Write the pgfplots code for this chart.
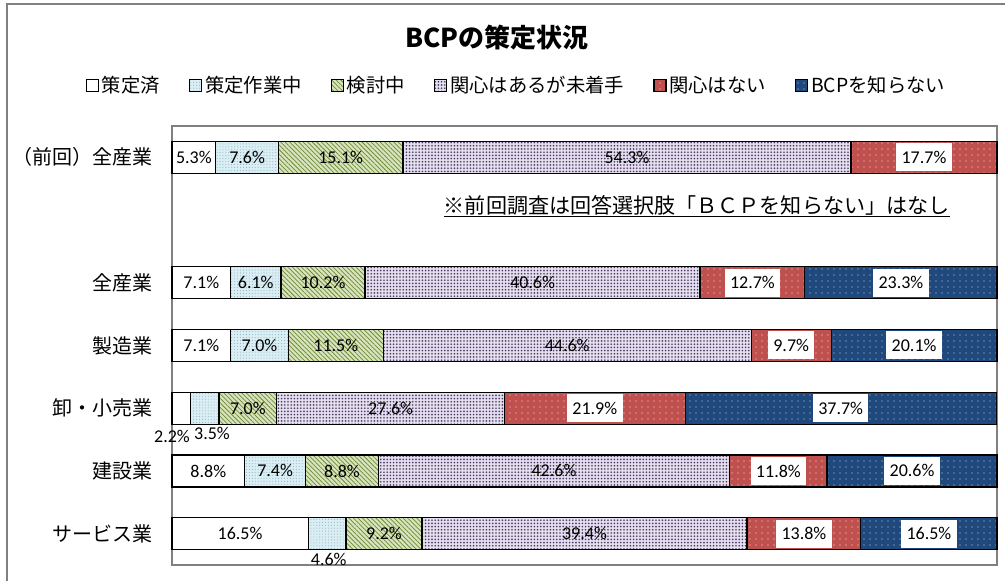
\documentclass[border=0pt]{standalone}
\usepackage{pgfplots}
\pgfplotsset{compat=1.18}
\usetikzlibrary{patterns,patterns.meta}
\usepackage{fontspec}
\setmainfont{Carlito}
\newfontfamily\jp{Noto Sans CJK JP}
\definecolor{cB}{HTML}{DAEEF3}
\definecolor{cBp}{HTML}{8DB4C8}
\definecolor{cC}{HTML}{D7E4BD}
\definecolor{cCp}{HTML}{6E8A36}
\definecolor{cD}{HTML}{E4DFEC}
\definecolor{cDp}{HTML}{4E3A6C}
\definecolor{cE}{HTML}{C0504D}
\definecolor{cF}{HTML}{1F497D}
\definecolor{frame}{HTML}{808080}
\begin{document}
\begin{tikzpicture}
\useasboundingbox (0,0) rectangle (753.75pt,435.75pt);
\draw[frame, line width=1.2pt] (5.25pt,0) -- (5.25pt,432.75pt) -- (760pt,432.75pt);
\node[font=\jp\bfseries\fontsize{19.5}{22}\selectfont] at (372.75pt,407.25pt) {BCPの策定状況};
\begin{axis}[
  at={(129pt,12pt)}, anchor=south west,
  scale only axis, width=618.75pt, height=329.25pt,
  xbar stacked, bar width=0.51,
  xmin=0, xmax=100, ymin=-0.5, ymax=6.5,
  xtick=\empty,
  ytick={0,1,2,3,4,6},
  yticklabels={サービス業,建設業,卸・小売業,製造業,全産業,（前回）全産業},
  yticklabel style={font=\jp\fontsize{15}{17}\selectfont, xshift=-11pt},
  major tick length=0pt,
  axis line style={frame, line width=0.8pt},
  legend columns=6,
  legend style={at={(0.418,1.093)}, anchor=center, draw=none, fill=none,
    font=\jp\fontsize{14.5}{16}\selectfont,
    /tikz/every even column/.append style={column sep=20pt}},
  legend image code/.code={\draw[#1] (0pt,-4.5pt) rectangle (9pt,4.5pt);},
  clip=false,
]
\addplot[draw=black, line width=0.9pt, fill=white] coordinates {(16.5,0) (8.8,1) (2.2,2) (7.1,3) (7.1,4) (5.3,6)};
\addlegendentry{策定済}
\addplot[draw=black, line width=0.9pt, fill=cB, postaction={pattern={Dots[distance=2.2pt, radius=0.4pt]}, pattern color=cBp}] coordinates {(4.6,0) (7.4,1) (3.5,2) (7.0,3) (6.1,4) (7.6,6)};
\addlegendentry{策定作業中}
\addplot[draw=black, line width=0.9pt, fill=cC, postaction={pattern={Lines[angle=-45, distance=2.4pt, line width=0.55pt]}, pattern color=cCp}] coordinates {(9.2,0) (8.8,1) (7.0,2) (11.5,3) (10.2,4) (15.1,6)};
\addlegendentry{検討中}
\addplot[draw=black, line width=0.9pt, fill=cD, postaction={pattern={Dots[distance=2.4pt, radius=0.7pt]}, pattern color=cDp}] coordinates {(39.4,0) (42.6,1) (27.6,2) (44.6,3) (40.6,4) (54.3,6)};
\addlegendentry{関心はあるが未着手}
\addplot[draw=black, line width=0.9pt, fill=cE, postaction={pattern={Dots[distance=4.5pt, radius=0.45pt]}, pattern color=white!80!cE}] coordinates {(13.8,0) (11.8,1) (21.9,2) (9.7,3) (12.7,4) (17.7,6)};
\addlegendentry{関心はない}
\addplot[draw=black, line width=0.9pt, fill=cF, postaction={pattern={Dots[distance=4.5pt, radius=0.45pt]}, pattern color=white!75!cF}] coordinates {(16.5,0) (20.6,1) (37.7,2) (20.1,3) (23.3,4) (0,6)};
\addlegendentry{BCPを知らない}
\end{axis}
\begin{axis}[
  at={(129pt,12pt)}, anchor=south west,
  scale only axis, width=618.75pt, height=329.25pt,
  xmin=0, xmax=100, ymin=-0.5, ymax=6.5,
  hide axis, clip=false,
  nodes near coords, point meta=explicit symbolic,
  nodes near coords align=center,
  nodes near coords style={font=\fontsize{13.5}{15}\selectfont, text=black, inner sep=1pt},
]
\addplot[draw=none, mark=none] coordinates {
 (2.65,6) [5.3\%] (9.1,6) [7.6\%] (20.45,6) [15.1\%] (55.15,6) [54.3\%]
 (3.55,4) [7.1\%] (10.15,4) [6.1\%] (18.3,4) [10.2\%] (43.7,4) [40.6\%]
 (3.55,3) [7.1\%] (10.6,3) [7.0\%] (19.85,3) [11.5\%] (47.9,3) [44.6\%]
 (9.2,2) [7.0\%] (26.5,2) [27.6\%]
 (4.4,1) [8.8\%] (12.5,1) [7.4\%] (20.6,1) [8.8\%] (46.3,1) [42.6\%]
 (8.25,0) [16.5\%] (25.7,0) [9.2\%] (50.0,0) [39.4\%]
};
\addplot[draw=none, mark=none, nodes near coords style={fill=white, inner xsep=4pt, minimum height=21pt}] coordinates {
 (91.15,6) [17.7\%]
 (70.35,4) [12.7\%] (88.35,4) [23.3\%]
 (75.05,3) [9.7\%] (89.95,3) [20.1\%]
 (51.25,2) [21.9\%] (81.05,2) [37.7\%]
 (73.5,1) [11.8\%] (89.7,1) [20.6\%]
 (76.6,0) [13.8\%] (91.75,0) [16.5\%]
};
\addplot[draw=none, mark=none] coordinates {
 (0,1.55) [2.2\%] (4.85,1.6) [3.5\%] (19.0,-0.41) [4.6\%]
};
\node[font=\jp\fontsize{15.8}{17}\selectfont] at (axis cs:63.6,5.22) {\underline{※前回調査は回答選択肢「ＢＣＰを知らない」はなし}};
\end{axis}
\end{tikzpicture}
\end{document}
